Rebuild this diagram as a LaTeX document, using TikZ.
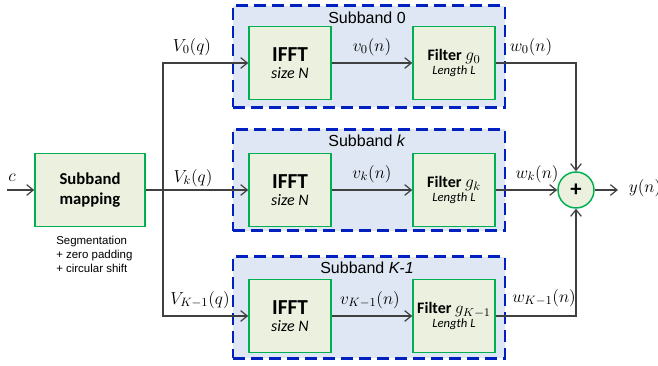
\documentclass[tikz,border=0pt]{standalone}
\usepackage{fix-cm}
\usepackage{fontspec}
\setsansfont{Liberation Sans}
\newfontfamily\calibri{Carlito}
\usetikzlibrary{
  arrows.meta,
  positioning
}
\definecolor{boxgreen}{RGB}{0,176,80}
\definecolor{boxfill}{RGB}{235,241,222}
\definecolor{bandblue}{RGB}{0,32,192}
\definecolor{bandfill}{RGB}{222,231,243}
\definecolor{wirecol}{RGB}{64,64,64}

\begin{document}
\begin{tikzpicture}[
  x=0.75pt, y=-0.75pt,
  band/.style={
    rectangle, draw=bandblue, fill=bandfill, line width=2.2pt,
    dash pattern=on 9pt off 4.5pt,
    minimum width=204pt, minimum height=76pt
  },
  bandlabel/.style={font=\sffamily\fontsize{12}{14}\selectfont},
  block/.style={
    rectangle, draw=boxgreen, fill=boxfill, line width=1.1pt,
    minimum width=61.5pt, minimum height=55pt, align=center,
    font=\calibri
  },
  mapblock/.style={block, minimum width=82.5pt},
  sumnode/.style={
    circle, draw=boxgreen, fill=boxfill, line width=1.1pt,
    minimum size=27pt, inner sep=0pt, font=\calibri\bfseries\fontsize{17}{17}\selectfont
  },
  sig/.style={font=\fontsize{13}{15}\selectfont, inner sep=1pt},
  arrow/.style={-{Straight Barb[length=5pt,width=8pt]}, wirecol, line width=0.9pt},
  link/.style={wirecol, line width=0.9pt},
]

\useasboundingbox (0,0) rectangle (658,366);

% Subband panels
\node[band] (band0) at (369,56.5) {};
\node[bandlabel] at (367,18) {Subband 0};
\node[band] (bandk) at (369,180) {};
\node[bandlabel] at (367,141) {Subband \textit{k}};
\node[band] (bandK) at (369,307.5) {};
\node[bandlabel] at (367,268) {Subband \textit{K-1}};

% Mapping block
\node[mapblock] (map) at (90,190)
  {\fontsize{12.5}{15}\selectfont\bfseries Subband\\[3pt]
   \fontsize{12.5}{15}\selectfont\bfseries mapping};
\node[align=left, font=\sffamily\fontsize{8.6}{10.5}\selectfont, anchor=north west,
  inner sep=0pt] (note) at (56,236) {Segmentation\\+ zero padding\\+ circular shift};

% IFFT blocks
\node[block] (ifft0) at (290,63)
  {\fontsize{16}{18}\selectfont\bfseries IFFT\\[1pt]\fontsize{12}{14}\selectfont\itshape size N};
\node[block] (ifftk) at (290,190)
  {\fontsize{16}{18}\selectfont\bfseries IFFT\\[1pt]\fontsize{12}{14}\selectfont\itshape size N};
\node[block] (ifftK) at (290,316)
  {\fontsize{16}{18}\selectfont\bfseries IFFT\\[1pt]\fontsize{12}{14}\selectfont\itshape size N};

% Filter blocks
\node[block] (filt0) at (454,63)
  {\fontsize{12}{14}\selectfont\bfseries Filter \fontsize{13}{15}\selectfont$g_0$\\[-2pt]\fontsize{9.5}{11}\selectfont\itshape Length L};
\node[block] (filtk) at (454,190)
  {\fontsize{12}{14}\selectfont\bfseries Filter \fontsize{13}{15}\selectfont$g_k$\\[-2pt]\fontsize{9.5}{11}\selectfont\itshape Length L};
\node[block, inner xsep=0.5pt] (filtK) at (454,316)
  {\fontsize{12}{14}\selectfont\bfseries Filter \fontsize{12.5}{15}\selectfont$g_{K-1}$\\[-2pt]\fontsize{9.5}{11}\selectfont\itshape Length L};

% Summation and ends
\node[sumnode] (sum) at (576,190) {+};
\coordinate (in) at (7,190);
\coordinate (split) at (163,190);
\coordinate (out) at (618,190);
\node[sig] (cin) at (12,178) {$c$};
\node[sig] (yout) at (645,188) {$y(n)$};

% Connections
\draw[arrow] (in) -- (map.west);
\draw[link] (map.east) -- (split);
\draw[arrow] (split) |- (ifft0.west);
\draw[arrow] (split) -- (ifftk.west);
\draw[arrow] (split) |- (ifftK.west);
\draw[arrow] (ifft0) -- (filt0);
\draw[arrow] (ifftk) -- (filtk);
\draw[arrow] (ifftK) -- (filtK);
\draw[arrow] (filt0.east) -| (sum.north);
\draw[arrow] (filtk.east) -- (sum.west);
\draw[arrow] (filtK.east) -| (sum.south);
\draw[arrow] (sum.east) -- (out);

% Signal labels
\node[sig] (V0) at (192,47) {$V_0(q)$};
\node[sig] (Vk) at (193,178) {$V_k(q)$};
\node[sig] (VK) at (200,300) {$V_{K-1}(q)$};
\node[sig] (v0) at (372,47) {$v_0(n)$};
\node[sig] (vk) at (372,174) {$v_k(n)$};
\node[sig] (vK) at (370,300) {$v_{K-1}(n)$};
\node[sig] (w0) at (531,47) {$w_0(n)$};
\node[sig] (wk) at (537,174) {$w_k(n)$};
\node[sig] (wK) at (544,298) {$w_{K-1}(n)$};

\end{tikzpicture}
\end{document}
